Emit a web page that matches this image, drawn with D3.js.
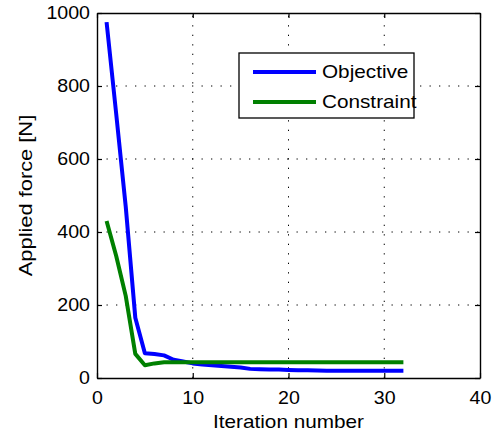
<!DOCTYPE html>
<html>
<head>
<meta charset="utf-8">
<script src="https://cdn.jsdelivr.net/npm/d3@7"></script>
<style>
  body { margin: 0; background: #fff; }
  text { font-family: "Liberation Sans", Arial, sans-serif; fill: #000; }
</style>
</head>
<body>
<script>
// data
var iterations = d3.range(1, 33);
var objective = [975, 725, 470, 165, 68, 66, 62, 50, 45, 40, 37, 35, 33, 31, 29, 25,
                 24, 23.5, 23, 22, 21.5, 21, 20.5, 20, 20, 20, 20, 20, 20, 20, 20, 20];
var constraint = [430, 335, 225, 66, 35, 40, 43, 43, 43, 43, 43, 43, 43, 43, 43, 43,
                  43, 43, 43, 43, 43, 43, 43, 43, 43, 43, 43, 43, 43, 43, 43, 43];
var xTicks = [0, 10, 20, 30, 40];
var yTicks = [0, 200, 400, 600, 800, 1000];
var seriesNames = ["Objective", "Constraint"];
var seriesColors = ["#0000ff", "#008000"];

var width = 493, height = 436;
var plotLeft = 97, plotRight = 480, plotTop = 13, plotBottom = 378;
var fontSize = 18.5;

var svg = d3.select("body").append("svg")
    .attr("width", width)
    .attr("height", height);

var xScale = d3.scaleLinear().domain([0, 40]).range([plotLeft, plotRight]);
var yScale = d3.scaleLinear().domain([0, 1000]).range([plotBottom, plotTop]);

// widen text a bit, the original font runs wider than Liberation Sans
function stretch(sel, k) {
    sel.each(function () {
        var l = this.getComputedTextLength();
        d3.select(this).attr("textLength", l * k).attr("lengthAdjust", "spacingAndGlyphs");
    });
}

// dotted grid
var grid = svg.append("g")
    .attr("stroke", "#000")
    .attr("stroke-width", 1)
    .attr("stroke-dasharray", "1.3,8.2");
grid.selectAll(".gx").data(xTicks.slice(1, -1)).enter().append("line")
    .attr("x1", function (d) { return xScale(d); })
    .attr("x2", function (d) { return xScale(d); })
    .attr("y1", plotBottom).attr("y2", plotTop);
grid.selectAll(".gy").data(yTicks.slice(1, -1)).enter().append("line")
    .attr("y1", function (d) { return yScale(d); })
    .attr("y2", function (d) { return yScale(d); })
    .attr("x1", plotLeft).attr("x2", plotRight);

// lines
var line = d3.line()
    .x(function (d, i) { return xScale(iterations[i]); })
    .y(function (d) { return yScale(d); });

[objective, constraint].forEach(function (s, i) {
    svg.append("path")
        .datum(s)
        .attr("fill", "none")
        .attr("stroke", seriesColors[i])
        .attr("stroke-width", 4)
        .attr("stroke-linejoin", "round")
        .attr("d", line);
});

// axes, ticks pointing inward
var xAxis = d3.axisBottom(xScale).tickValues(xTicks).tickFormat(d3.format("d"))
    .tickSizeInner(-5).tickSizeOuter(0).tickPadding(12.5);
var yAxis = d3.axisLeft(yScale).tickValues(yTicks).tickFormat(d3.format("d"))
    .tickSizeInner(-5).tickSizeOuter(0).tickPadding(7);

var xAxisGroup = svg.append("g")
    .attr("class", "x axis")
    .attr("transform", "translate(0," + plotBottom + ")")
    .call(xAxis);
var yAxisGroup = svg.append("g")
    .attr("class", "y axis")
    .attr("transform", "translate(" + plotLeft + ",0)")
    .call(yAxis);
svg.append("g")
    .attr("transform", "translate(0," + plotTop + ")")
    .call(d3.axisTop(xScale).tickValues(xTicks).tickSizeInner(-5).tickSizeOuter(0).tickFormat(""));
svg.append("g")
    .attr("transform", "translate(" + plotRight + ",0)")
    .call(d3.axisRight(yScale).tickValues(yTicks).tickSizeInner(-5).tickSizeOuter(0).tickFormat(""));

svg.selectAll(".domain").attr("stroke", "#000").attr("stroke-width", 1.4);
svg.selectAll(".tick line").attr("stroke", "#000").attr("stroke-width", 1.2);
svg.selectAll(".tick text").attr("font-size", fontSize).attr("font-family", "Liberation Sans, Arial, sans-serif").attr("fill", "#000");
stretch(svg.selectAll(".tick text"), 1.06);

// axis labels
var xl = svg.append("text")
    .attr("x", (plotLeft + plotRight) / 2)
    .attr("y", 428)
    .attr("text-anchor", "middle")
    .attr("font-size", fontSize)
    .text("Iteration number");
stretch(xl, 1.12);

var yl = svg.append("text")
    .attr("transform", "translate(32," + ((plotTop + plotBottom) / 2) + ") rotate(-90)")
    .attr("text-anchor", "middle")
    .attr("font-size", fontSize)
    .text("Applied force [N]");
stretch(yl, 1.18);

// legend
var legend = svg.append("g");
legend.append("rect")
    .attr("x", 239).attr("y", 53)
    .attr("width", 175).attr("height", 65)
    .attr("fill", "#fff")
    .attr("stroke", "#000")
    .attr("stroke-width", 1.3);
seriesNames.forEach(function (name, i) {
    var cy = 72 + i * 30;
    legend.append("line")
        .attr("x1", 253).attr("x2", 316)
        .attr("y1", cy).attr("y2", cy)
        .attr("stroke", seriesColors[i])
        .attr("stroke-width", 4);
    var t = legend.append("text")
        .attr("x", 322).attr("y", cy)
        .attr("dy", "0.35em")
        .attr("font-size", fontSize)
        .text(name);
    stretch(t, 1.12);
});
</script>
</body>
</html>
